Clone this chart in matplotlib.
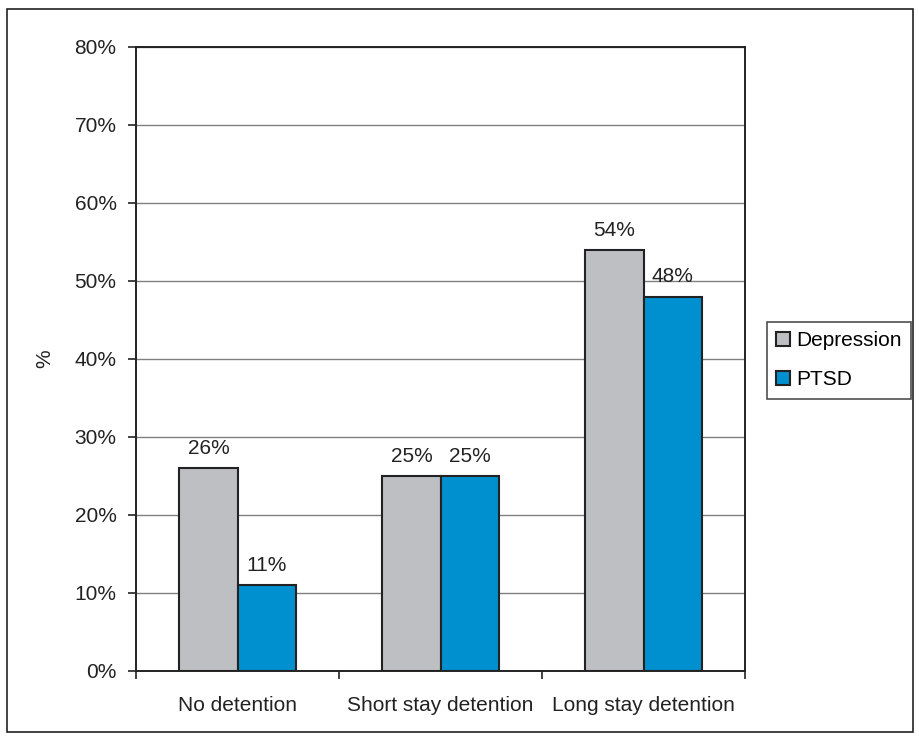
import numpy as np
import matplotlib.pyplot as plt
from matplotlib.patches import Rectangle

# Prevalence by detention status
categories = ['No detention', 'Short stay detention', 'Long stay detention']
depression = [26, 25, 54]
ptsd = [11, 25, 48]
series_names = ['Depression', 'PTSD']
colors = ['#BEBFC3', '#0090CF']

plt.rcParams['font.family'] = ['Liberation Sans', 'DejaVu Sans']
FS = 15

W, H = 919, 741
fig = plt.figure(figsize=(W / 100, H / 100), dpi=100)

# outer frame
fig.patches.append(Rectangle((7 / W, 9 / H), 906 / W, 723 / H, transform=fig.transFigure,
                             fill=False, edgecolor='#222222', linewidth=1.2))

ax = fig.add_axes([136 / W, (H - 671) / H, 609 / W, 624 / H])

x = np.arange(len(categories))
width = 0.286
b1 = ax.bar(x - width / 2, depression, width, color=colors[0], edgecolor='#222222',
            linewidth=1.5, label=series_names[0], zorder=3)
b2 = ax.bar(x + width / 2, ptsd, width, color=colors[1], edgecolor='#222222',
            linewidth=1.5, label=series_names[1], zorder=3)

for bars, vals in ((b1, depression), (b2, ptsd)):
    for rect, v in zip(bars, vals):
        ax.text(rect.get_x() + rect.get_width() / 2, v + 1.3, f'{v}%',
                ha='center', va='bottom', fontsize=FS, color='#222222')

ax.set_xlim(-0.5, 2.5)
ax.set_ylim(0, 80)
ax.set_yticks(np.arange(0, 81, 10))
ax.set_yticklabels([f'{t}%' for t in range(0, 81, 10)], fontsize=FS, color='#222222')
ax.set_xticks([-0.5, 0.5, 1.5, 2.5], minor=False)
ax.set_xticklabels([])
ax.set_xticks(x, minor=True)
ax.set_xticklabels(categories, minor=True, fontsize=FS, color='#222222')
ax.tick_params(axis='x', which='minor', length=0, pad=18)
ax.tick_params(axis='x', which='major', length=6, width=1.2, direction='out', color='#222222')
ax.tick_params(axis='y', length=6, width=1.2, direction='out', color='#222222', pad=8)
ax.grid(axis='y', color='#808080', linewidth=1.0, zorder=0)
for s in ax.spines.values():
    s.set_color('#222222')
    s.set_linewidth(1.4)
fig.text(45 / W, (H - 359) / H, '%', rotation=90, ha='center', va='center',
         fontsize=FS, color='#222222')

leg = fig.legend(handles=[b1, b2], labels=series_names, loc='upper left',
                 bbox_to_anchor=(767 / W, (H - 322) / H), frameon=True, fancybox=False,
                 fontsize=FS, handlelength=0.65, handleheight=0.65, handletextpad=0.3,
                 borderpad=0.45, labelspacing=0.95, borderaxespad=0)
leg.get_frame().set_edgecolor('#222222')
leg.get_frame().set_linewidth(1.2)

fig.savefig('out.png', dpi=100)
